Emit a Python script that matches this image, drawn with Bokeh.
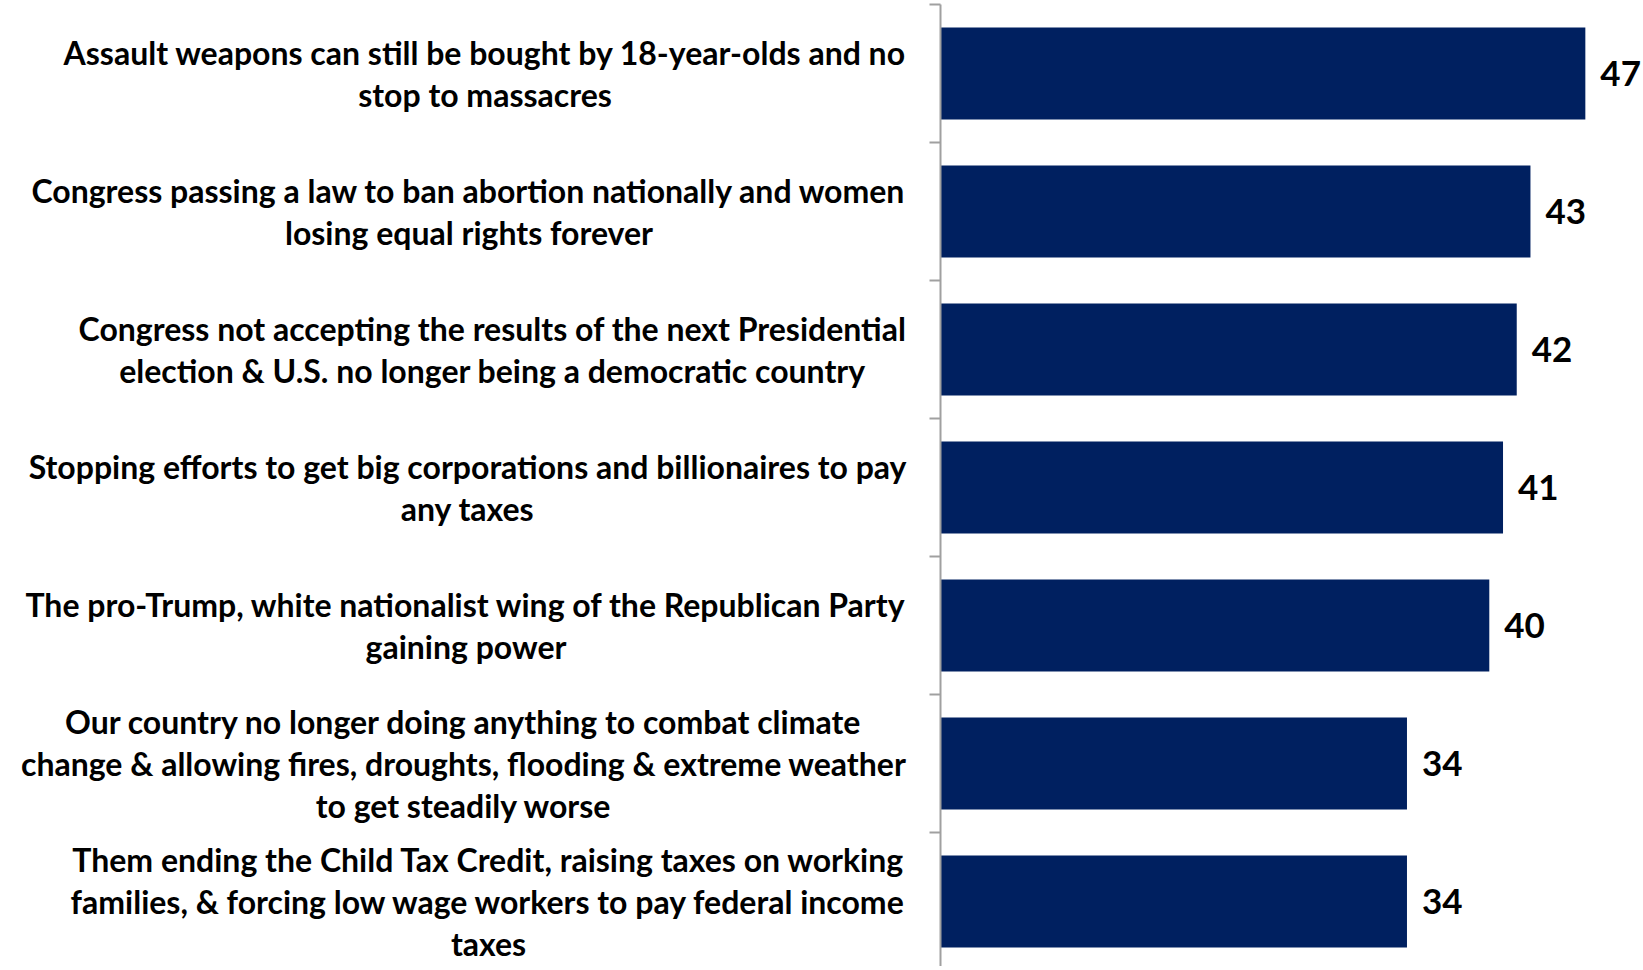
from bokeh.plotting import figure
from bokeh.models import Range1d, ColumnDataSource
from bokeh.core.properties import value
from bokeh.embed import file_html
from bokeh.resources import INLINE

categories = [
    "Assault weapons can still be bought by 18-year-olds and no\nstop to massacres",
    "Congress passing a law to ban abortion nationally and women\nlosing equal rights forever",
    "Congress not accepting the results of the next Presidential\nelection & U.S. no longer being a democratic country",
    "Stopping efforts to get big corporations and billionaires to pay\nany taxes",
    "The pro-Trump, white nationalist wing of the Republican Party\ngaining power",
    "Our country no longer doing anything to combat climate\nchange & allowing fires, droughts, flooding & extreme weather\nto get steadily worse",
    "Them ending the Child Tax Credit, raising taxes on working\nfamilies, & forcing low wage workers to pay federal income\ntaxes",
]
values = [47, 43, 42, 41, 40, 34, 34]
value_labels = [str(v) for v in values]

# layout (pixels)
W, H = 1643, 966
AXIS_X = 940          # screen x of the value axis inside the canvas
PX_PER_UNIT = 13.72   # horizontal scale
BAND = 138.0          # height of one category band
TOP = 4.0             # screen y of the first band boundary
TICK_LEN = 11

n = len(categories)
ys = [i + 0.5 for i in range(n)]
bounds = list(range(n + 1))

src = ColumnDataSource(dict(y=ys, v=values, vt=value_labels, cat=categories))

p = figure(width=W, height=H, output_backend="svg", toolbar_location=None,
           x_range=Range1d(-AXIS_X / PX_PER_UNIT, (W - AXIS_X) / PX_PER_UNIT),
           y_range=Range1d((H - TOP) / BAND, (0 - TOP) / BAND),
           min_border=0, x_axis_location=None, y_axis_location=None)
p.grid.visible = False
p.outline_line_color = None
p.background_fill_color = "white"
p.border_fill_color = "white"

p.hbar(y="y", left=0, right="v", height=0.667, fill_color="#002060",
       line_color=None, source=src)

gray = "#A0A0A0"
p.segment(x0=0, x1=0, y0=0, y1=n, line_color=gray, line_width=2)
p.segment(x0=[0] * len(bounds), x1=[-TICK_LEN / PX_PER_UNIT] * len(bounds),
          y0=bounds, y1=bounds, line_color=gray, line_width=2)

p.text(x="v", y="y", text="vt", source=src, x_offset=15,
       text_align="left", text_baseline="middle",
       text_font=value("Lato"), text_font_style="bold",
       text_font_size="35px", text_color="black")

p.text(x=0, y="y", text="cat", source=src, x_offset=-34,
       anchor="center_right", text_align="center", text_baseline="middle",
       text_line_height=1.08,
       text_font=value("Lato"), text_font_style="bold",
       text_font_size="32px", text_color="black")

open("out.html", "w").write(file_html(p, INLINE))
